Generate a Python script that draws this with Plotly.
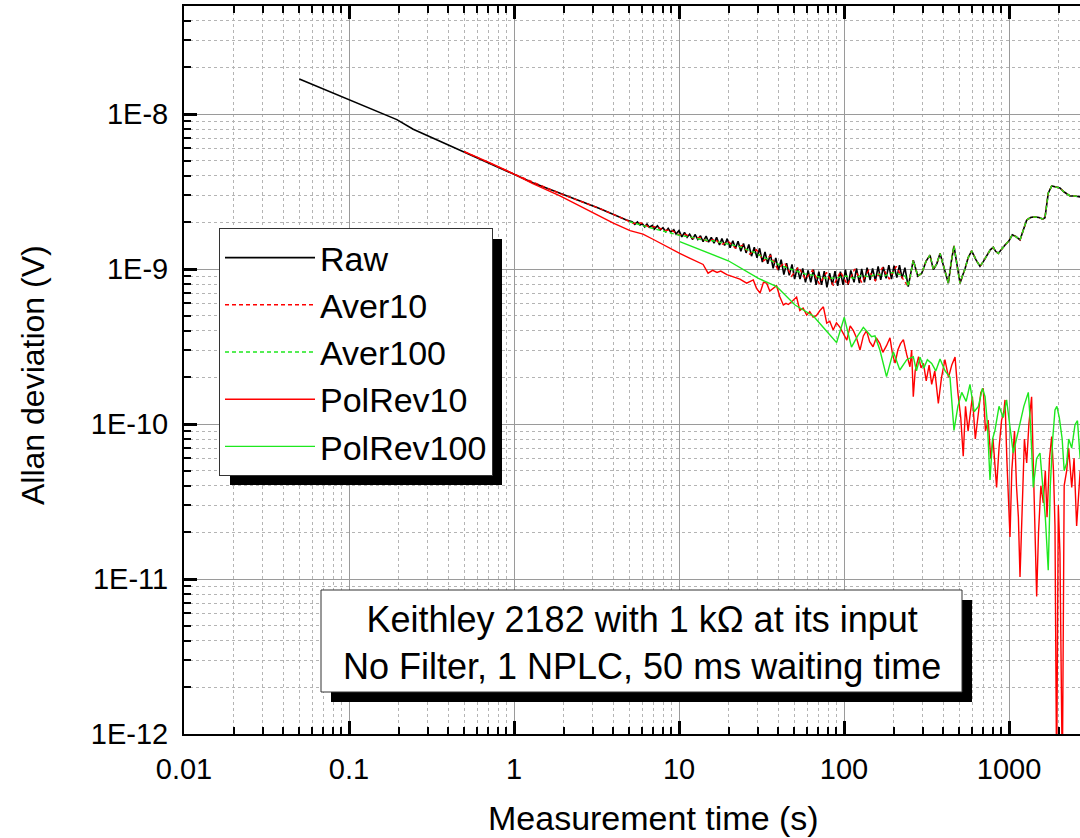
import plotly.graph_objects as go

# ---------------- data ----------------
raw_tau = [0.05, 0.1, 0.195, 0.245, 0.5, 0.82, 1.0, 1.3, 1.9, 2.5, 3.3, 4.8,
           5.2, 5.4, 5.6, 5.8, 6.0, 6.2, 6.4, 6.6, 6.9, 7.1, 7.4, 7.7, 8.0, 8.3, 8.6, 8.9, 9.3, 9.6,
           10.0, 10.4, 10.8, 11.2, 11.6, 12.1, 12.5, 13.0, 13.5, 14.0, 14.6, 15.1, 15.7, 16.3, 16.9,
           17.6, 18.2, 18.9, 19.6, 20.4, 21.2, 22.0, 22.8, 23.7, 24.6, 25.5, 26.5, 27.5, 28.6, 29.7,
           30.8, 32.0, 33.2, 34.5, 35.8, 37.2, 38.6, 40.1, 41.6, 43.2, 44.9, 46.6, 48.4, 50.2, 52.1,
           54.1, 56.2, 58.4, 60.6, 62.9, 65.3, 67.8, 70.4, 73.1, 75.9, 78.8, 81.8, 85.0, 88.2, 91.6,
           95.1, 98.7, 102, 106, 110, 115, 119, 124, 128, 133, 138, 144, 149, 155, 161, 167, 173,
           180, 187, 194, 201, 209, 217, 225, 234]
raw_val = [1.68e-8, 1.23e-8, 9.2e-9, 7.97e-9, 5.71e-9, 4.53e-9, 4.08e-9, 3.6e-9, 3.08e-9, 2.75e-9, 2.46e-9, 2.07e-9,
           2.02e-9, 1.94e-9, 2.01e-9, 1.92e-9, 1.96e-9, 1.87e-9, 1.95e-9, 1.86e-9, 1.91e-9, 1.81e-9, 1.90e-9, 1.79e-9,
           1.85e-9, 1.74e-9, 1.83e-9, 1.73e-9, 1.79e-9, 1.68e-9,
           1.77e-9, 1.61e-9, 1.72e-9, 1.60e-9, 1.68e-9, 1.55e-9, 1.67e-9, 1.55e-9, 1.64e-9, 1.50e-9, 1.63e-9, 1.49e-9,
           1.60e-9, 1.47e-9, 1.60e-9,
           1.43e-9, 1.57e-9, 1.42e-9, 1.57e-9, 1.37e-9, 1.52e-9, 1.36e-9, 1.51e-9, 1.30e-9, 1.46e-9, 1.27e-9, 1.44e-9,
           1.21e-9, 1.38e-9, 1.18e-9,
           1.36e-9, 1.11e-9, 1.29e-9, 1.08e-9, 1.25e-9, 1.01e-9, 1.18e-9, 9.8e-10, 1.15e-9, 9.2e-10, 1.09e-9, 9.1e-10,
           1.07e-9, 8.6e-10, 1.02e-9,
           8.6e-10, 1.01e-9, 8.2e-10, 9.8e-10, 8.2e-10, 9.9e-10, 7.9e-10, 9.6e-10, 7.9e-10, 9.7e-10, 7.6e-10, 9.4e-10,
           7.9e-10, 9.7e-10, 7.8e-10,
           9.6e-10, 7.9e-10, 9.9e-10, 7.9e-10, 9.8e-10, 8.2e-10, 1.01e-9, 8.1e-10, 1.00e-9, 8.2e-10, 1.02e-9, 8.5e-10,
           1.01e-9, 8.4e-10, 1.04e-9, 8.5e-10, 1.03e-9,
           8.7e-10, 1.06e-9, 8.6e-10, 1.05e-9, 8.8e-10, 1.06e-9, 8.7e-10, 1.02e-9]

aver10_tau = [0.5, 1.0, 1.9, 3.3, 4.8, 5.3, 5.9, 6.6, 7.3, 8.1, 9.0, 10.0, 11.0, 12.2, 13.5,
              14.9, 16.4, 18.1, 20.0, 22.0, 24.3, 26.8, 29.5, 32.6, 35.9, 39.6, 43.6, 48.1,
              53.0, 58.4, 64.4, 71.0, 78.3, 86.3, 95.1, 105, 116, 128, 141, 155, 171, 188, 207, 228]
aver10_val = [5.71e-9, 4.1e-9, 3.07e-9, 2.46e-9, 2.07e-9, 1.97e-9, 1.98e-9, 1.86e-9, 1.88e-9, 1.77e-9, 1.78e-9, 1.66e-9, 1.67e-9, 1.58e-9, 1.60e-9,
              1.50e-9, 1.56e-9, 1.44e-9, 1.50e-9, 1.36e-9, 1.42e-9, 1.25e-9, 1.33e-9, 1.13e-9, 1.22e-9, 1.00e-9, 1.10e-9, 9.0e-10,
              1.03e-9, 8.6e-10, 9.8e-10, 8.0e-10, 9.5e-10, 7.8e-10, 9.6e-10, 7.9e-10, 1.0e-9, 8.2e-10, 9.8e-10, 8.4e-10, 1.02e-9, 8.6e-10, 1.04e-9, 8.6e-10]

aver100_tau = [5.0, 6.0, 7.0, 8.0, 9.0, 10.0, 12, 14, 16, 18, 20, 23, 26, 29, 32, 36, 41, 46,
               52, 58, 65, 73, 82, 92, 103, 115, 128, 142, 158, 176, 196, 218, 235]
aver100_val = [2.02e-9, 1.90e-9, 1.82e-9, 1.76e-9, 1.70e-9, 1.65e-9, 1.60e-9, 1.54e-9, 1.52e-9, 1.48e-9, 1.46e-9, 1.40e-9, 1.33e-9,
               1.27e-9, 1.20e-9, 1.13e-9, 1.06e-9, 1.01e-9, 9.7e-10, 9.3e-10, 9.1e-10, 8.8e-10, 8.7e-10, 8.8e-10, 9.0e-10, 8.7e-10,
               9.1e-10, 8.9e-10, 9.3e-10, 9.0e-10, 9.5e-10, 9.2e-10, 9.0e-10]

# long-tau part where Raw, Aver10 and Aver100 lie on top of each other
tail_tau = [245, 263, 280, 296, 314, 332, 348, 365, 382, 405, 429, 446, 464, 485, 505, 522, 541, 565,
            594, 630, 667, 700, 740, 770, 803, 830, 861, 900, 946, 1000, 1047, 1100, 1166, 1220, 1280,
            1350, 1420, 1520, 1600, 1652, 1700, 1729, 1814, 1900, 2036, 2150, 2250, 2344, 2500, 2630, 2700]
tail_val = [7.7e-10, 1.14e-9, 9.0e-10, 9.4e-10, 1.12e-9, 1.23e-9, 9.9e-10, 1.08e-9, 1.26e-9, 1.0e-9, 8.1e-10, 1.1e-9,
            1.41e-9, 1.05e-9, 8.1e-10, 9.0e-10, 1.0e-9, 1.18e-9, 1.31e-9, 1.15e-9, 1.04e-9, 1.12e-9, 1.25e-9, 1.33e-9,
            1.38e-9, 1.30e-9, 1.26e-9, 1.34e-9, 1.43e-9, 1.52e-9, 1.66e-9, 1.62e-9, 1.54e-9, 1.78e-9, 2.07e-9,
            2.15e-9, 2.17e-9, 2.15e-9, 2.10e-9, 2.14e-9, 2.6e-9, 3.08e-9, 3.43e-9, 3.40e-9, 3.33e-9, 3.15e-9,
            3.05e-9, 2.96e-9, 2.96e-9, 2.94e-9, 2.92e-9]

polrev10_tau = [0.5, 0.7, 1.0, 1.3, 1.9, 2.6, 3.3, 4.0, 5.05, 6.05, 7.0, 8.5, 10.1, 11.5, 12.9, 14.0, 15.0,
                16.0, 17.0, 17.9, 19.5, 21.3, 23.4, 25.7, 28.2, 29.5, 31.0, 32.5, 34.0, 35.5, 37.3, 39.0,
                40.9, 42.9, 44.5, 46.0, 48.5, 51.6, 54.0, 56.5, 59.4, 62.0, 65.0, 68.0, 71.5, 75.0, 78.6,
                82.0, 86.0, 90.0, 94.6, 99.0, 104, 109, 114, 119, 125, 131, 137, 143, 150, 157, 165, 172,
                181, 190, 197, 204, 212, 220, 229, 240, 251, 257, 263, 270, 283, 293, 303, 315, 328, 340,
                355, 373, 390, 409, 430, 450, 471, 490, 510, 528, 545, 565, 580, 600, 625, 650, 675, 698,
                720, 748, 775, 800, 841, 870, 902, 930, 946, 970, 990, 1014, 1040, 1080, 1110, 1140, 1166,
                1200, 1240, 1280, 1320, 1371, 1400, 1440, 1471, 1510, 1560, 1614, 1660, 1700, 1760, 1814,
                1860, 1900, 1944, 1990, 2036, 2105, 2160, 2237, 2300, 2400, 2480, 2570, 2620, 2700]
polrev10_val = [5.71e-9, 4.9e-9, 4.10e-9, 3.55e-9, 2.96e-9, 2.50e-9, 2.18e-9, 1.98e-9, 1.77e-9, 1.68e-9, 1.55e-9,
                1.38e-9, 1.26e-9, 1.18e-9, 1.12e-9, 1.07e-9, 9.4e-10, 9.8e-10, 9.5e-10, 9.7e-10, 9.2e-10, 8.9e-10,
                8.6e-10, 8.1e-10, 8.5e-10, 7.5e-10, 7.0e-10, 8.2e-10, 8.1e-10, 7.2e-10, 7.5e-10, 7.8e-10, 6.6e-10,
                5.86e-10, 6.0e-10, 5.9e-10, 6.2e-10, 6.6e-10, 5.4e-10, 5.6e-10, 5.05e-10, 5.3e-10, 4.9e-10, 5.0e-10,
                5.4e-10, 5.7e-10, 4.47e-10, 4.6e-10, 4.04e-10, 4.5e-10, 4.2e-10, 3.8e-10, 3.48e-10, 4.3e-10, 4.0e-10,
                3.6e-10, 3.0e-10, 3.7e-10, 4.0e-10, 3.4e-10, 3.15e-10, 3.6e-10, 3.3e-10, 2.9e-10, 3.2e-10, 3.6e-10,
                2.8e-10, 2.47e-10, 3.0e-10, 3.3e-10, 3.5e-10, 2.8e-10, 2.34e-10, 3.0e-10, 1.5e-10, 2.2e-10, 2.72e-10,
                2.3e-10, 2.46e-10, 1.9e-10, 2.4e-10, 1.8e-10, 2.2e-10, 1.36e-10, 2.0e-10, 2.6e-10, 2.0e-10, 2.4e-10,
                2.7e-10, 1.6e-10, 1.1e-10, 6.2e-11, 1.3e-10, 9e-11, 1.1e-10, 1.5e-10, 8e-11, 1.2e-10, 1.6e-10, 1.7e-10,
                9e-11, 1.06e-10, 6e-11, 8e-11, 3.9e-11, 7e-11, 1.06e-10, 1.2e-10, 1.43e-10, 6e-11, 3e-11, 1.87e-11,
                5e-11, 9e-11, 4e-11, 2.5e-11, 1.03e-11, 3e-11, 8e-11, 5.6e-11, 1e-10, 1.5e-10, 6e-11, 2.5e-11,
                7.7e-12, 2e-11, 4e-11, 3.1e-11, 5e-11, 2.5e-11, 6e-11, 8.3e-11, 5e-11, 2.2e-11, 5e-13, 3e-11,
                1.47e-11, 5e-13, 4e-11, 5e-11, 7e-11, 3.9e-11, 6e-11, 2.2e-11, 3.1e-11, 5e-11]

polrev100_tau = [10.1, 19.9, 30.3, 39.1, 50.5, 65.2, 78, 90.2, 100.4, 111, 121, 131, 147, 154, 165, 181,
                 199, 218, 240, 263, 275, 289, 305, 320, 340, 360, 382, 410, 439, 464, 490, 517, 550, 580,
                 615, 652, 690, 716, 740, 767, 795, 822, 870, 923, 967, 1010, 1061, 1110, 1166, 1230, 1309,
                 1350, 1403, 1470, 1541, 1600, 1660, 1729, 1780, 1840, 1900, 1950, 2018, 2100, 2160, 2237,
                 2300, 2400, 2512, 2600, 2700]
polrev100_val = [1.50e-9, 1.13e-9, 8.7e-10, 7.7e-10, 5.86e-10, 4.98e-10, 4.0e-10, 3.35e-10, 4.88e-10, 3.13e-10,
                 3.7e-10, 4.2e-10, 3.66e-10, 3.7e-10, 3.0e-10, 2.02e-10, 2.93e-10, 2.23e-10, 2.6e-10, 2.72e-10,
                 2.2e-10, 2.7e-10, 2.3e-10, 2.6e-10, 2.46e-10, 2.2e-10, 2.63e-10, 2.2e-10, 2.0e-10, 9.1e-11,
                 1.3e-10, 1.6e-10, 1.4e-10, 1.8e-10, 1.2e-10, 1.3e-10, 1.7e-10, 1.5e-10, 1.0e-10, 4.35e-11,
                 8e-11, 9.1e-11, 1.3e-10, 1.1e-10, 1.43e-10, 1.0e-10, 6.5e-11, 8e-11, 1.0e-10, 1.3e-10, 1.6e-10,
                 1.0e-10, 3.9e-11, 6e-11, 6.5e-11, 4e-11, 2.5e-11, 1.14e-11, 4e-11, 8e-11, 1.23e-10, 1.3e-10,
                 1.1e-10, 8e-11, 5e-11, 5.6e-11, 8e-11, 7e-11, 9.9e-11, 1.05e-10, 6e-11]

x_tickvals = [0.01, 0.1, 1, 10, 100, 1000]
x_ticktext = ["0.01", "0.1", "1", "10", "100", "1000"]
y_tickvals = [1e-12, 1e-11, 1e-10, 1e-9, 1e-8]
y_ticktext = ["1E-12", "1E-11", "1E-10", "1E-9", "1E-8"]

# ---------------- layout geometry (pixels) ----------------
W, H = 1080, 838
L, R, T, B = 184, 1080, 6, 734


def px(p):
    return (p - L) / (R - L)


def py(p):
    return 1 - (p - T) / (B - T)


FONT = "Liberation Sans, Arial, sans-serif"
RED = "#FF0000"
GREEN = "#1EE81E"

fig = go.Figure()
fig.add_trace(go.Scatter(x=raw_tau + tail_tau, y=raw_val + tail_val, mode="lines", name="Raw",
                         line=dict(color="black", width=1.6)))
fig.add_trace(go.Scatter(x=aver10_tau + tail_tau, y=aver10_val + tail_val, mode="lines", name="Aver10",
                         line=dict(color=RED, width=1.4, dash="4px,3px")))
fig.add_trace(go.Scatter(x=aver100_tau + tail_tau, y=aver100_val + tail_val, mode="lines", name="Aver100",
                         line=dict(color=GREEN, width=1.4, dash="4px,3px")))
fig.add_trace(go.Scatter(x=polrev10_tau, y=polrev10_val, mode="lines", name="PolRev10",
                         line=dict(color=RED, width=1.4)))
fig.add_trace(go.Scatter(x=polrev100_tau, y=polrev100_val, mode="lines", name="PolRev100",
                         line=dict(color=GREEN, width=1.4)))

x_minor = [m * 10 ** e for e in range(-2, 4) for m in range(2, 10) if m * 10 ** e < 2700]
y_minor = [m * 10.0 ** e for e in range(-12, -7) for m in range(2, 10) if m * 10.0 ** e < 5e-8]

axis_common = dict(
    showline=True, linecolor="black", linewidth=2,
    ticks="inside", ticklen=13, tickwidth=2.5, tickcolor="black",
    showgrid=True, gridcolor="#9a9a9a", gridwidth=1,
    tickfont=dict(family=FONT, size=29, color="black"),
    zeroline=False,
)

fig.update_xaxes(type="log", range=[-2, -2 + (R - L) / 165.0], tickmode="array",
                 tickvals=x_tickvals, ticktext=x_ticktext, mirror="allticks",
                 ticklabelstandoff=8,
                 minor=dict(tickmode="array", tickvals=x_minor, ticks="inside", ticklen=7,
                            tickwidth=1.5, tickcolor="black", showgrid=True,
                            gridcolor="#b4b4b4", griddash="3px,3px", gridwidth=1),
                 **axis_common)
fig.update_yaxes(type="log", range=[-12, -12 + (B - T) / 155.0], tickmode="array",
                 tickvals=y_tickvals, ticktext=y_ticktext, mirror=False,
                 ticklabelstandoff=8,
                 minor=dict(tickmode="array", tickvals=y_minor, ticks="inside", ticklen=7,
                            tickwidth=1.5, tickcolor="black", showgrid=True,
                            gridcolor="#b4b4b4", griddash="3px,3px", gridwidth=1),
                 **axis_common)

# legend box (approximate pixel extent of plotly's legend) and its drop shadow
LEG_L, LEG_T = 219, 228
LEG_R, LEG_B = 492, 475
SH = 10

shapes = [
    dict(type="rect", xref="paper", yref="paper", x0=px(LEG_L + SH + 1), x1=px(LEG_R + SH),
         y0=py(LEG_T + SH + 1), y1=py(LEG_B + SH),
         fillcolor="black", line=dict(width=0), layer="above"),
    # text box shadow + box
    dict(type="rect", xref="paper", yref="paper", x0=px(331), x1=px(972), y0=py(600), y1=py(702),
         fillcolor="black", line=dict(width=0), layer="above"),
    dict(type="rect", xref="paper", yref="paper", x0=px(321), x1=px(962), y0=py(590), y1=py(692),
         fillcolor="white", line=dict(color="#333333", width=1), layer="above"),
]

annotations = [
    dict(text="Keithley 2182 with 1 kΩ at its input<br>No Filter, 1 NPLC, 50 ms waiting time",
         xref="paper", yref="paper", x=px(641.5), y=py(643), xanchor="center", yanchor="middle",
         showarrow=False, font=dict(family=FONT, size=36, color="black"), align="center"),
    dict(text="Measurement time (s)", xref="paper", yref="paper", x=px(653), y=py(818),
         xanchor="center", yanchor="middle", showarrow=False,
         font=dict(family=FONT, size=34, color="black")),
    dict(text="Allan deviation (V)", xref="paper", yref="paper", x=px(33), y=py(375),
         xanchor="center", yanchor="middle", showarrow=False, textangle=-90,
         font=dict(family=FONT, size=32, color="black")),
]

fig.update_layout(
    width=W, height=H,
    margin=dict(l=L, r=W - R, t=T, b=H - B, pad=0),
    paper_bgcolor="white", plot_bgcolor="white",
    showlegend=True,
    legend=dict(x=px(LEG_L), y=py(LEG_T), xanchor="left", yanchor="top",
                bgcolor="white", bordercolor="#333333", borderwidth=1,
                font=dict(family=FONT, size=34, color="black"),
                itemwidth=90, traceorder="normal"),
    shapes=shapes,
    annotations=annotations,
)

fig.write_html("out.html",
               config={"displayModeBar": False},
               post_script="document.body.style.margin='0';document.body.style.overflow='hidden';")
